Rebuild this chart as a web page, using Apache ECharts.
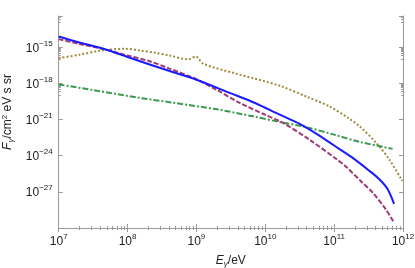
<!DOCTYPE html>
<html>
<head>
<meta charset="utf-8">
<script src="https://cdn.jsdelivr.net/npm/echarts@6/dist/echarts.min.js"></script>
<style>html,body{margin:0;padding:0;background:#fff}#c{width:415px;height:268px}</style>
</head>
<body>
<div id="c"></div>
<script>
// log10(E/eV) and log10(F)
const blueLogE   = [7, 7.3, 7.65, 8, 8.3, 8.61, 9, 9.5, 9.85, 10.21, 10.5, 10.75, 11, 11.25, 11.5, 11.66, 11.78, 11.87];
const blueLogF   = [-14.1, -14.6, -15.12, -15.8, -16.38, -16.97, -17.69, -18.82, -19.62, -20.59, -21.35, -22.2, -23.15, -24.1, -25.2, -25.97, -26.8, -28.0];
const purpleLogE = [7, 7.3, 7.65, 8, 8.3, 8.6, 9, 9.3, 9.63, 10, 10.25, 10.64, 11.05, 11.17, 11.4, 11.56, 11.75, 11.87];
const purpleLogF = [-14.32, -14.72, -15.15, -15.68, -16.12, -16.75, -17.65, -18.55, -19.62, -20.6, -21.25, -22.66, -24.35, -24.9, -26.18, -27.07, -28.45, -29.55];
const oliveLogE  = [7, 7.3, 7.6, 7.96, 8.18, 8.4, 8.61, 8.88, 8.99, 9.1, 9.58, 10.21, 10.6, 10.93, 11.2, 11.37, 11.61, 11.8, 11.99];
const oliveLogF  = [-15.9, -15.62, -15.28, -15.12, -15.26, -15.45, -15.68, -16.0, -15.76, -16.37, -17.19, -18.19, -19.1, -19.9, -20.85, -21.56, -22.93, -24.3, -26.1];
const greenLogE  = [7, 7.5, 8.18, 8.69, 9.3, 9.82, 10.21, 10.57, 11, 11.37, 11.85];
const greenLogF  = [-18.08, -18.55, -19.2, -19.62, -20.15, -20.73, -21.2, -21.6, -22.25, -22.85, -23.43];

function pts(le, lf) { return le.map((x, i) => [Math.pow(10, x), Math.pow(10, lf[i])]); }
function supLabel(v) {
  const e = Math.round(Math.log10(v));
  return '{b|10}{s|' + String(e).replace('-', '\u2212') + '}';
}
const rich = {
  b: { fontSize: 12, fontFamily: 'Liberation Sans', color: '#222', verticalAlign: 'bottom', lineHeight: 14 },
  s: { fontSize: 8, fontFamily: 'Liberation Sans', color: '#222', verticalAlign: 'bottom', lineHeight: 14, padding: [0, 0, 7, 0] }
};
const gray = '#9a9a9a';
function xAx(pos, showLabel) {
  return {
    type: 'log', logBase: 10, position: pos, min: 1e7, max: 1e12, interval: 1,
    axisLine: { show: true, lineStyle: { color: gray, width: 1 } },
    axisTick: { show: true, inside: true, length: 4, lineStyle: { color: gray } },
    minorTick: { show: true, splitNumber: 9, length: 2, lineStyle: { color: gray } },
    splitLine: { show: false }, minorSplitLine: { show: false },
    axisLabel: { show: showLabel, formatter: supLabel, rich: rich, margin: 6 },
    name: showLabel ? '{i|E}{g|\u03b3}{t|/eV}' : '',
    nameLocation: 'middle', nameGap: 26,
    nameTextStyle: { rich: {
      i: { fontSize: 12, fontStyle: 'italic', fontFamily: 'Liberation Sans', color: '#222' },
      g: { fontSize: 8, fontStyle: 'italic', fontFamily: 'Liberation Sans', color: '#222', padding: [6, 0, 0, 0] },
      t: { fontSize: 12, fontFamily: 'Liberation Sans', color: '#222' } } }
  };
}
function yAx(pos, showLabel) {
  return {
    type: 'log', logBase: 10, position: pos, min: 1e-30, max: Math.pow(10, -12.4), interval: 3,
    axisLine: { show: true, lineStyle: { color: gray, width: 1 } },
    axisTick: { show: true, inside: true, length: 4, lineStyle: { color: gray } },
    minorTick: { show: true, splitNumber: 9, length: 2, lineStyle: { color: gray } },
    splitLine: { show: false }, minorSplitLine: { show: false },
    axisLabel: { show: showLabel, formatter: supLabel, rich: rich, margin: 6, showMinLabel: false, showMaxLabel: false },
    name: showLabel ? '{i|F}{g|\u03b3}{t|/cm}{s|2}{t| eV s sr}' : '',
    nameLocation: 'middle', nameGap: 35, nameRotate: 90,
    nameTextStyle: { padding: [0, 0, 0, 20], rich: {
      i: { fontSize: 12, fontStyle: 'italic', fontFamily: 'Liberation Sans', color: '#222' },
      g: { fontSize: 8, fontStyle: 'italic', fontFamily: 'Liberation Sans', color: '#222', padding: [6, 0, 0, 0] },
      s: { fontSize: 8, fontFamily: 'Liberation Sans', color: '#222', padding: [0, 0, 6, 0] },
      t: { fontSize: 12, fontFamily: 'Liberation Sans', color: '#222' } } }
  };
}
const chart = echarts.init(document.getElementById('c'), null, { renderer: 'canvas' });
chart.setOption({
  animation: false,
  backgroundColor: '#fff',
  grid: { left: 58.7, right: 12, top: 16, bottom: 40, containLabel: false, outerBoundsMode: 'none' },
  xAxis: [xAx('bottom', true), xAx('top', false)],
  yAxis: [yAx('left', true), yAx('right', false)],
  series: [
    { type: 'line', name: 'olive', data: pts(oliveLogE, oliveLogF), smooth: 0.3, symbol: 'none',
      lineStyle: { color: '#a08c3c', width: 2, type: [2, 2] } },
    { type: 'line', name: 'green', data: pts(greenLogE, greenLogF), smooth: 0.3, symbol: 'none',
      lineStyle: { color: '#3c9a50', width: 2, type: [6, 2, 2, 2] } },
    { type: 'line', name: 'purple', data: pts(purpleLogE, purpleLogF), smooth: 0.3, symbol: 'none',
      lineStyle: { color: '#a03a74', width: 2, type: [5, 2] } },
    { type: 'line', name: 'blue', data: pts(blueLogE, blueLogF), smooth: 0.3, symbol: 'none',
      lineStyle: { color: '#1a1aff', width: 2, type: 'solid' } }
  ]
});
</script>
</body>
</html>
